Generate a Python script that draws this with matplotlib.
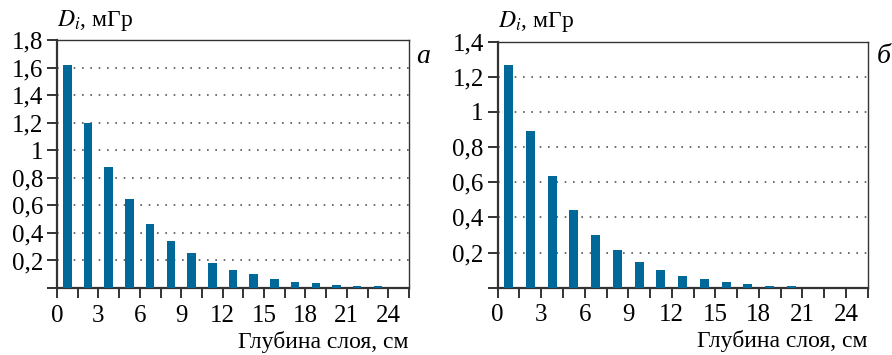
import matplotlib
matplotlib.use("Agg")
import matplotlib.pyplot as plt
from matplotlib.ticker import MultipleLocator, FixedLocator

plt.rcParams['font.family'] = ['Liberation Serif', 'DejaVu Serif']
plt.rcParams['mathtext.fontset'] = 'stix'

# Layer centers (cm) and doses (mGy)
depth_a = [0.75, 2.25, 3.75, 5.25, 6.75, 8.25, 9.75, 11.25, 12.75, 14.25,
           15.75, 17.25, 18.75, 20.25, 21.75, 23.25]
dose_a = [1.62, 1.20, 0.88, 0.645, 0.465, 0.342, 0.253, 0.181, 0.130, 0.100,
          0.064, 0.042, 0.035, 0.020, 0.013, 0.012]

depth_b = [0.75, 2.25, 3.75, 5.25, 6.75, 8.25, 9.75, 11.25, 12.75, 14.25,
           15.75, 17.25, 18.75, 20.25]
dose_b = [1.268, 0.892, 0.636, 0.443, 0.301, 0.215, 0.146, 0.101, 0.067, 0.050,
          0.033, 0.021, 0.010, 0.010]

yticks_a = [0, 0.2, 0.4, 0.6, 0.8, 1.0, 1.2, 1.4, 1.6, 1.8]
ylabels_a = ['', '0,2', '0,4', '0,6', '0,8', '1', '1,2', '1,4', '1,6', '1,8']
yticks_b = [0, 0.2, 0.4, 0.6, 0.8, 1.0, 1.2, 1.4]
ylabels_b = ['', '0,2', '0,4', '0,6', '0,8', '1', '1,2', '1,4']
xticks = [0, 3, 6, 9, 12, 15, 18, 21, 24]
xlabels = ['0', '3', '6', '9', '12', '15', '18', '21', '24']

bar_color = '#00699A'
spine_color = '#333333'

fig = plt.figure(figsize=(8.92, 3.55), dpi=100)
ax_a = fig.add_axes([0.0639, 0.1887, 0.3946, 0.6978])
ax_b = fig.add_axes([0.5580, 0.1896, 0.4147, 0.6929])

def style(ax, depth, dose, yticks, ylabels, ymax, letter, letter_x):
    ax.bar(depth, dose, width=0.62, color=bar_color, zorder=3)
    ax.set_xlim(0, 25.5)
    ax.set_ylim(0, ymax)
    ax.xaxis.set_major_locator(FixedLocator(xticks))
    ax.set_xticklabels(xlabels)
    ax.xaxis.set_minor_locator(MultipleLocator(1.5))
    ax.set_yticks(yticks)
    ax.set_yticklabels(ylabels)
    ax.tick_params(axis='both', which='both', direction='out', length=7,
                   width=1.4, color=spine_color, labelsize=18)
    ax.tick_params(axis='x', which='major', pad=5)
    ax.tick_params(axis='y', pad=3)
    for sp in ['left', 'bottom']:
        ax.spines[sp].set_linewidth(1.6)
        ax.spines[sp].set_color(spine_color)
    for sp in ['right', 'top']:
        ax.spines[sp].set_linewidth(1.0)
        ax.spines[sp].set_color(spine_color)
    for y in yticks[1:]:
        if y < ymax - 1e-9:
            ax.axhline(y, color='#555555', linewidth=1.2, linestyle=(0, (1, 4)),
                       zorder=1)
    ax.text(0.0, 1.03, r'$D_i$, мГр', transform=ax.transAxes, fontsize=17,
            ha='left', va='bottom')
    ax.text(1.0, -0.218, 'Глубина слоя, см', transform=ax.transAxes,
            fontsize=17, ha='right', va='center')
    fig.text(letter_x, 0.84, letter, fontsize=20, style='italic',
             ha='center', va='center')

style(ax_a, depth_a, dose_a, yticks_a, ylabels_a, 1.8, 'а', 0.4745)
style(ax_b, depth_b, dose_b, yticks_b, ylabels_b, 1.4, 'б', 0.9905)

fig.savefig('out.png', dpi=100)
